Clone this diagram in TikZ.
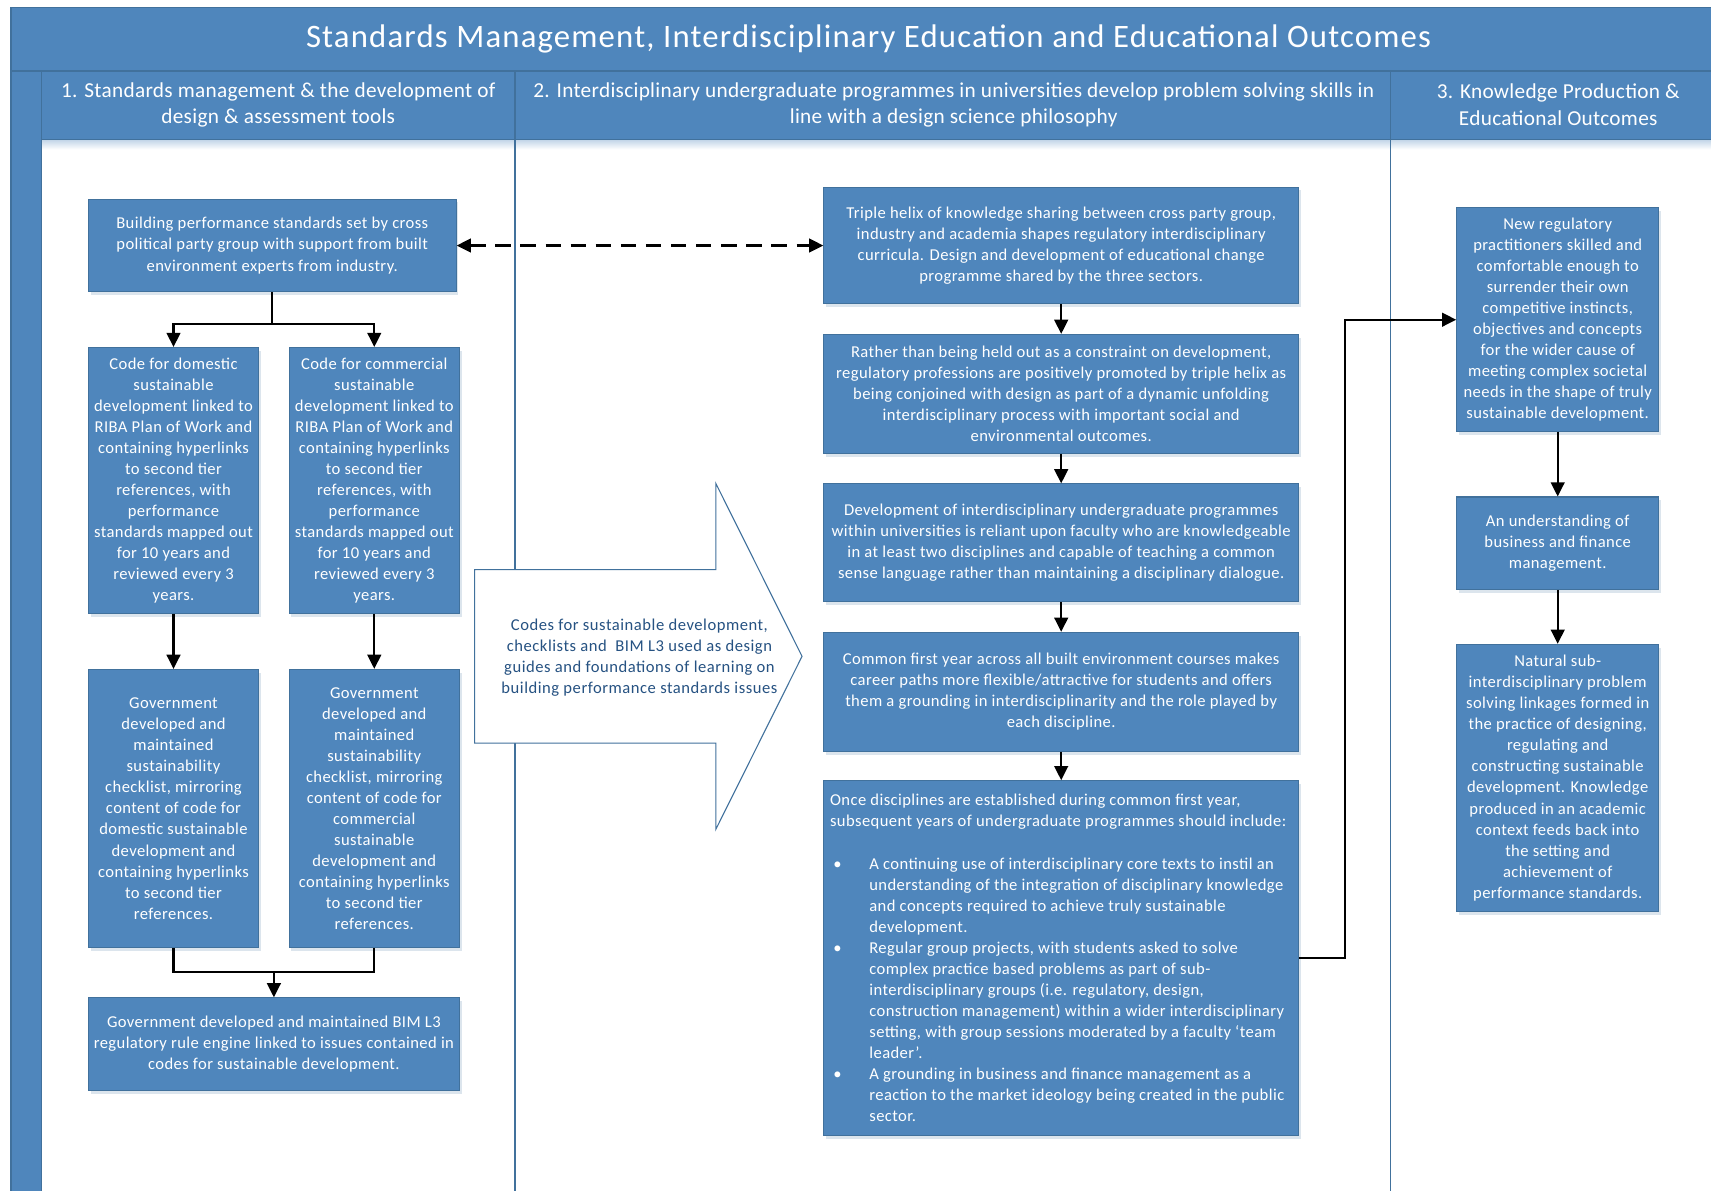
\documentclass[tikz,border=0pt]{standalone}
\usepackage{fontspec}
\setmainfont{Carlito}
\newfontfamily\cardfont[LetterSpace=2.5]{Carlito}
\newfontfamily\arrowfont[LetterSpace=3.2]{Carlito}
\newfontfamily\headfont[LetterSpace=1.4]{Carlito}
\newfontfamily\titlefont[LetterSpace=3.6]{Carlito}
\usetikzlibrary{arrows.meta,shadows,calc}
\definecolor{boxblue}{RGB}{79,134,188}
\definecolor{edgeblue}{RGB}{65,113,156}
\definecolor{inkblue}{RGB}{38,82,130}
\begin{document}
\begin{tikzpicture}[x=1pt,y=-1pt,
  card/.style={draw=edgeblue, line width=1pt, fill=boxblue, text=white, align=center,
    inner sep=0pt, font=\cardfont\fontsize{15.2}{19.3}\selectfont,
    drop shadow={shadow xshift=2pt, shadow yshift=-3pt, opacity=0.18, fill=edgeblue}},
  band/.style={draw=edgeblue, line width=1.2pt, fill=boxblue},
  headtext/.style={text=white, align=center, inner sep=0pt, font=\headfont\fontsize{19.5}{24}\selectfont},
  link/.style={line width=2.2pt, -{Triangle[length=13pt,width=12.5pt]}},
  plain/.style={line width=2.2pt},
  lane/.style={draw=edgeblue, line width=1.2pt}
]
\useasboundingbox (0,0) rectangle (1568,1091);

% frame: title band, left stripe, column headers, lane dividers
\fill[white] (0,0) rectangle (1568,1091);
\shade[top color=boxblue!35, bottom color=white] (38,128) rectangle (1600,137);
\draw[band] (10,7) rectangle (1600,65);
\draw[band] (10,65) rectangle (38,1120);
\draw[band] (38,65) rectangle (472,128);
\draw[band] (472,65) rectangle (1274,128);
\draw[band] (1274,65) rectangle (1600,128);
\draw[lane] (472,128) -- (472,1120);
\draw[lane] (1274,128) -- (1274,1120);

\node[headtext, font=\titlefont\fontsize{30}{34}\selectfont] (title) at (796,36)
  {Standards Management, Interdisciplinary Education and Educational Outcomes};
\node[headtext] (h1) at (255,96)
  {1. Standards management \& the development of\\design \& assessment tools};
\node[headtext] (h2) at (874,96)
  {2. Interdisciplinary undergraduate programmes in universities develop problem solving skills in\\line with a design science philosophy};
\node[headtext] (h3) at (1428,96)
  {3. Knowledge Production \&\\Educational Outcomes};

% column 1
\node[card, minimum width=337pt, minimum height=85pt] (b1) at (249.5,225)
  {Building performance standards set by cross\\political party group with support from built\\environment experts from industry.};
\node[card, minimum width=156pt, minimum height=244pt] (b2) at (159,440.5)
  {Code for domestic\\sustainable\\development linked to\\RIBA Plan of Work and\\containing hyperlinks\\to second tier\\references, with\\performance\\standards mapped out\\for 10 years and\\reviewed every 3\\years.};
\node[card, minimum width=156pt, minimum height=244pt] (b3) at (343,440.5)
  {Code for commercial\\sustainable\\development linked to\\RIBA Plan of Work and\\containing hyperlinks\\to second tier\\references, with\\performance\\standards mapped out\\for 10 years and\\reviewed every 3\\years.};
\node[card, minimum width=156pt, minimum height=255pt] (b4) at (159,741)
  {Government\\developed and\\maintained\\sustainability\\checklist, mirroring\\content of code for\\domestic sustainable\\development and\\containing hyperlinks\\to second tier\\references.};
\node[card, minimum width=156pt, minimum height=255pt] (b5) at (343,741)
  {Government\\developed and\\maintained\\sustainability\\checklist, mirroring\\content of code for\\commercial\\sustainable\\development and\\containing hyperlinks\\to second tier\\references.};
\node[card, minimum width=340pt, minimum height=85pt] (b6) at (251,957)
  {Government developed and maintained BIM L3\\regulatory rule engine linked to issues contained in\\codes for sustainable development.};

% block arrow between columns 1 and 2
\draw[draw=edgeblue, fill=white, line width=1pt]
  (435,522) -- (656,522) -- (656,443) -- (735,601.5) -- (656,760) -- (656,681) -- (435,681) -- cycle;
\node[text=inkblue, align=center, inner sep=0pt, font=\arrowfont\fontsize{15.2}{19.3}\selectfont] (codes) at (586,603)
  {Codes for sustainable development,\\checklists and\ \ BIM L3 used as design\\guides and foundations of learning on\\building performance standards issues};

% column 2
\node[card, minimum width=435pt, minimum height=107pt] (c1) at (972.5,225)
  {Triple helix of knowledge sharing between cross party group,\\industry and academia shapes regulatory interdisciplinary\\curricula. Design and development of educational change\\programme shared by the three sectors.};
\node[card, minimum width=435pt, minimum height=109pt] (c2) at (972.5,361)
  {Rather than being held out as a constraint on development,\\regulatory professions are positively promoted by triple helix as\\being conjoined with design as part of a dynamic unfolding\\interdisciplinary process with important social and\\environmental outcomes.};
\node[card, minimum width=435pt, minimum height=108pt] (c3) at (972.5,497.5)
  {Development of interdisciplinary undergraduate programmes\\within universities is reliant upon faculty who are knowledgeable\\in at least two disciplines and capable of teaching a common\\sense language rather than maintaining a disciplinary dialogue.};
\node[card, minimum width=435pt, minimum height=109pt] (c4) at (972.5,634)
  {Common first year across all built environment courses makes\\career paths more flexible/attractive for students and offers\\them a grounding in interdisciplinarity and the role played by\\each discipline.};
\node[card, minimum width=435pt, minimum height=325pt] (c5) at (972.5,878) {};
\node[text=white, align=left, inner sep=0pt, anchor=west,
      font=\cardfont\fontsize{15.2}{19.3}\selectfont] (c5text) at ([xshift=6pt]c5.west)
  {Once disciplines are established during common first year,\\
   subsequent years of undergraduate programmes should include:\\[19.3pt]
   \makebox[36pt][l]{\hspace{3pt}\textbullet}A continuing use of interdisciplinary core texts to instil an\\
   \hspace*{36pt}understanding of the integration of disciplinary knowledge\\
   \hspace*{36pt}and concepts required to achieve truly sustainable\\
   \hspace*{36pt}development.\\
   \makebox[36pt][l]{\hspace{3pt}\textbullet}Regular group projects, with students asked to solve\\
   \hspace*{36pt}complex practice based problems as part of sub-\\
   \hspace*{36pt}interdisciplinary groups (i.e. regulatory, design,\\
   \hspace*{36pt}construction management) within a wider interdisciplinary\\
   \hspace*{36pt}setting, with group sessions moderated by a faculty ‘team\\
   \hspace*{36pt}leader’.\\
   \makebox[36pt][l]{\hspace{3pt}\textbullet}A grounding in business and finance management as a\\
   \hspace*{36pt}reaction to the market ideology being created in the public\\
   \hspace*{36pt}sector.};

% column 3
\node[card, minimum width=185pt, minimum height=205pt] (r1) at (1427.5,293)
  {New regulatory\\practitioners skilled and\\comfortable enough to\\surrender their own\\competitive instincts,\\objectives and concepts\\for the wider cause of\\meeting complex societal\\needs in the shape of truly\\sustainable development.};
\node[card, minimum width=185pt, minimum height=85pt] (r2) at (1427.5,498)
  {An understanding of\\business and finance\\management.};
\node[card, minimum width=185pt, minimum height=245pt] (r3) at (1427.5,713)
  {Natural sub-\\interdisciplinary problem\\solving linkages formed in\\the practice of designing,\\regulating and\\constructing sustainable\\development. Knowledge\\produced in an academic\\context feeds back into\\the setting and\\achievement of\\performance standards.};

% connectors, column 1
\draw[plain] (b1.south) -- ++(0,29) coordinate (fork);
\draw[link] (fork) -| (b2.north);
\draw[link] (fork) -| (b3.north);
\draw[link] (b2) -- (b4);
\draw[link] (b3) -- (b5);
\draw[plain] (b4.south) -- ++(0,22) coordinate (joinl) -| (b5.south);
\coordinate (join) at ($(joinl)!0.5!(joinl -| b5.south)$);
\draw[link] (join) -- (b6.north);

% dashed two-way link
\draw[line width=2.2pt, dash pattern=on 14pt off 9pt,
  {Triangle[length=13pt,width=12.5pt]}-{Triangle[length=13pt,width=12.5pt]}] (b1.east) -- (c1.west);

% connectors, column 2
\draw[link] (c1) -- (c2);
\draw[link] (c2) -- (c3);
\draw[link] (c3) -- (c4);
\draw[link] (c4) -- (c5);
\draw[link] (c5.east) -- ++(42,0) |- (r1.west);

% connectors, column 3
\draw[link] (r1) -- (r2);
\draw[link] (r2) -- (r3);
\end{tikzpicture}
\end{document}
